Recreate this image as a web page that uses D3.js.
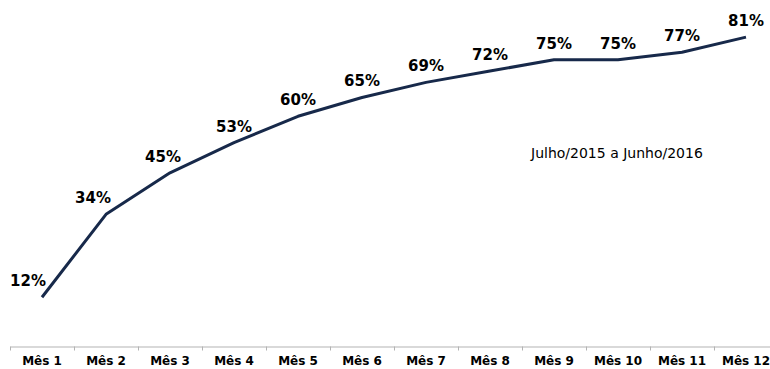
<!DOCTYPE html>
<html>
<head>
<meta charset="utf-8">
<script src="https://cdn.jsdelivr.net/npm/d3@7"></script>
<style>
  html, body { margin: 0; padding: 0; background: #ffffff; }
  svg { display: block; }
</style>
</head>
<body>
<svg id="chart" width="770" height="369"></svg>
<script>
// Cumulative share per month
const months = ["Mês 1", "Mês 2", "Mês 3", "Mês 4", "Mês 5", "Mês 6",
                "Mês 7", "Mês 8", "Mês 9", "Mês 10", "Mês 11", "Mês 12"];
const values = [12, 34, 45, 53, 60, 65, 69, 72, 75, 75, 77, 81];
const periodLabel = "Julho/2015 a Junho/2016";

const svg = d3.select("#chart");
const font = "'DejaVu Sans', Verdana, sans-serif";

const x = d3.scaleBand().domain(months).range([10, 778]).padding(0);
const y = d3.scaleLinear().domain([0, 100]).range([342.5, -34.5]);

// Category axis along the bottom
const axis = svg.append("g")
  .attr("transform", "translate(0,346.5)")
  .call(d3.axisBottom(x).tickSize(0));
axis.select(".domain").attr("stroke", "#b3b3b3").attr("stroke-width", 1);
axis.selectAll(".tick text")
  .attr("y", 18)
  .attr("dy", null)
  .attr("font-family", font)
  .attr("font-size", "12px")
  .attr("font-weight", "bold")
  .attr("fill", "#000");

// Tick marks between categories
const bounds = months.map(m => x(m)).concat([x(months[months.length - 1]) + x.bandwidth()]);
axis.selectAll("line.sep")
  .data(bounds)
  .enter().append("line")
  .attr("class", "sep")
  .attr("x1", d => d + 0.5).attr("x2", d => d + 0.5)
  .attr("y1", 0).attr("y2", 4)
  .attr("stroke", "#b3b3b3");

const cx = (d, i) => x(months[i]) + x.bandwidth() / 2;

// Line
svg.append("path")
  .datum(values)
  .attr("fill", "none")
  .attr("stroke", "#17294a")
  .attr("stroke-width", 3)
  .attr("stroke-linejoin", "round")
  .attr("d", d3.line().x(cx).y(d => y(d)));

// Value labels; the steep early points get their labels pulled left
const labelShift = i => [-14, -13, -7][i] || 0;
svg.append("g").selectAll("text")
  .data(values)
  .enter().append("text")
  .attr("x", (d, i) => cx(d, i) + labelShift(i))
  .attr("y", d => y(d) - 11)
  .attr("text-anchor", "middle")
  .attr("font-family", font)
  .attr("font-size", "15px")
  .attr("font-weight", "bold")
  .attr("fill", "#000")
  .text(d => d + "%");

// Period note
svg.append("text")
  .attr("x", 531)
  .attr("y", 158)
  .attr("font-family", font)
  .attr("font-size", "14px")
  .attr("fill", "#000")
  .text(periodLabel);
</script>
</body>
</html>
